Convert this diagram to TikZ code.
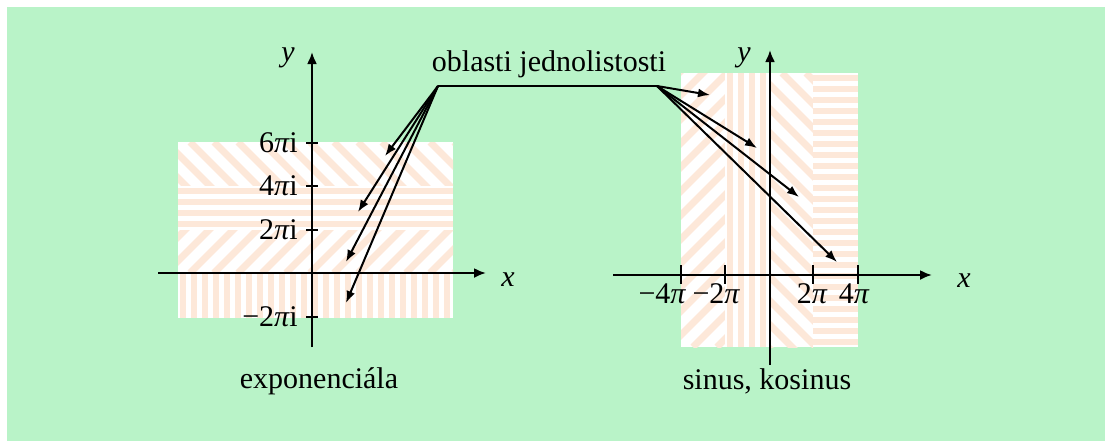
\documentclass[tikz,border=0pt]{standalone}
\usepackage{fontspec}
\setmainfont{Liberation Serif}
\usetikzlibrary{arrows.meta}
\definecolor{bggreen}{RGB}{185,243,200}
\definecolor{peach}{RGB}{253,232,217}
\tikzset{
  hstripe/.style={peach, line width=2.6pt},
  dstripe/.style={peach, line width=3.4pt},
  axis/.style={line width=1.1pt, -{Latex[length=6pt,width=5pt]}},
  tickmark/.style={line width=0.6pt},
  pointer/.style={line width=1pt, -{Latex[length=6pt,width=4.5pt]}},
  lbl/.style={font=\fontsize{15}{17}\selectfont, inner sep=0pt},
}
\newcommand\stripesH[4]{%
  \begin{scope}
    \clip (#1,#2) rectangle (#3,#4);
    \fill[white] (#1,#2) rectangle (#3,#4);
    \foreach \t in {0,11,...,300} \draw[hstripe] (#1,{#2+5+\t}) -- (#3,{#2+5+\t});
  \end{scope}}
\newcommand\stripesV[4]{%
  \begin{scope}
    \clip (#1,#2) rectangle (#3,#4);
    \fill[white] (#1,#2) rectangle (#3,#4);
    \foreach \t in {0,11,...,300} \draw[hstripe] ({#1+5+\t},#2) -- ({#1+5+\t},#4);
  \end{scope}}
\newcommand\stripesBack[4]{% "\" direction
  \begin{scope}
    \clip (#1,#2) rectangle (#3,#4);
    \fill[white] (#1,#2) rectangle (#3,#4);
    \foreach \s in {-300,-276,...,300} \draw[dstripe] ({#1+\s},#2) -- ({#1+\s+300},{#2+300});
  \end{scope}}
\newcommand\stripesFwd[4]{% "/" direction
  \begin{scope}
    \clip (#1,#2) rectangle (#3,#4);
    \fill[white] (#1,#2) rectangle (#3,#4);
    \foreach \s in {-300,-276,...,300} \draw[dstripe] ({#1+\s},#4) -- ({#1+\s+300},{#4-300});
  \end{scope}}
\begin{document}
\begin{tikzpicture}[x=0.5pt,y=-0.5pt]
\useasboundingbox (0,0) rectangle (1105,441);
\fill[bggreen] (7,7) rectangle (1105,441);

% left regions
\stripesBack{178}{142}{453}{186}
\stripesH{178}{186}{453}{230}
\stripesFwd{178}{230}{453}{273}
\stripesV{178}{273}{453}{318}

% right regions
\stripesFwd{681}{73}{725}{347}
\stripesV{725}{73}{770}{347}
\stripesBack{770}{73}{813}{347}
\stripesH{813}{73}{858}{347}

% left axes
\coordinate (lxa) at (158,273);
\coordinate (lxb) at (486,273);
\coordinate (lya) at (312,347);
\coordinate (lyb) at (312,52);
\draw[axis] (lxa) -- (lxb);
\draw[axis] (lya) -- (lyb);
\node[lbl] (lx) at (508,280) {\itshape x};
\node[lbl] (ly) at (288,58) {\itshape y};
\foreach \yy/\nm/\tx in {143/t6/6, 186/t4/4, 230/t2/2, 317/tm2/−2}{
  \draw[tickmark] (306,\yy) -- (318,\yy);
  \node[lbl, anchor=east] (\nm) at (298,\yy) {\tx{\itshape π}i};
}

% right axes
\coordinate (rxa) at (613,275);
\coordinate (rxb) at (932,275);
\coordinate (rya) at (770,365);
\coordinate (ryb) at (770,50);
\draw[axis] (rxa) -- (rxb);
\draw[axis] (rya) -- (ryb);
\node[lbl] (rx) at (964,281) {\itshape x};
\node[lbl] (ry) at (744,58) {\itshape y};
\foreach \xx in {681,725,813,858}{
  \draw[tickmark] (\xx,265) -- (\xx,284);
}
\node[lbl] (um4) at (662,294) {−4{\itshape π}};
\node[lbl] (um2) at (716,294) {−2{\itshape π}};
\node[lbl] (up2) at (812,294) {2{\itshape π}};
\node[lbl] (up4) at (854,294) {4{\itshape π}};

% captions
\node[lbl] (cexp) at (319,381) {exponenciála};
\node[lbl] (csin) at (767,381) {sinus, kosinus};

% pointer label
\node[lbl] (obl) at (549,64) {oblasti jednolistosti};
\coordinate (L) at (438,86);
\coordinate (R) at (657,86);
\draw[line width=0.6pt] (L) -- (R);
\coordinate (a1) at (385,156);
\coordinate (a2) at (358,212);
\coordinate (a3) at (346,262);
\coordinate (a4) at (346,303);
\coordinate (b1) at (710,95);
\coordinate (b2) at (757,148);
\coordinate (b3) at (799,197);
\coordinate (b4) at (837,262);
\foreach \p in {a1,a2,a3,a4} \draw[pointer] (L) -- (\p);
\foreach \p in {b1,b2,b3,b4} \draw[pointer] (R) -- (\p);
\end{tikzpicture}
\end{document}
